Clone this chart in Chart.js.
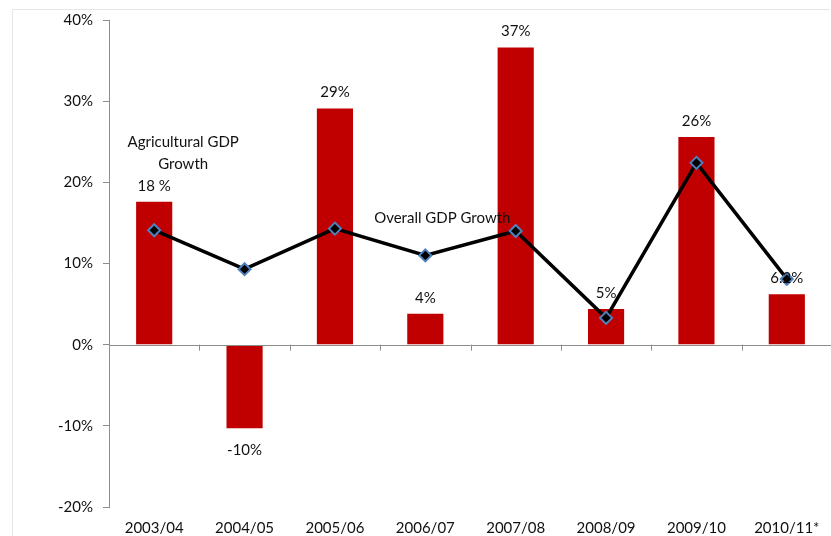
<!DOCTYPE html>
<html>
<head>
<meta charset="utf-8">
<script src="https://cdn.jsdelivr.net/npm/chart.js@4.4.1/dist/chart.umd.min.js"></script>
<style>
  html, body { margin: 0; padding: 0; background: #fff; overflow: hidden; }
  #wrap { position: relative; width: 840px; height: 536px; }
</style>
</head>
<body>
<div id="wrap"><canvas id="c" width="840" height="536"></canvas></div>
<script>
const categories = ['2003/04', '2004/05', '2005/06', '2006/07', '2007/08', '2008/09', '2009/10', '2010/11*'];
const agriculturalGrowth = [17.6, -10.3, 29.1, 3.8, 36.6, 4.4, 25.6, 6.2];
const agriculturalLabels = ['18 %', '-10%', '29%', '4%', '37%', '5%', '26%', '6.2%'];
const overallGrowth = [14.1, 9.3, 14.3, 11.0, 14.0, 3.3, 22.4, 8.1];
const yTicks = [-20, -10, 0, 10, 20, 30, 40];

const FONT = 'Lato, "Open Sans", sans-serif';

const decorPlugin = {
  id: 'decor',
  beforeDraw(chart) {
    const ctx = chart.ctx;
    ctx.save();
    ctx.strokeStyle = '#e6e6e6';
    ctx.lineWidth = 1;
    ctx.beginPath();
    ctx.moveTo(12.5, 540);
    ctx.lineTo(12.5, 9.5);
    ctx.lineTo(830, 9.5);
    ctx.stroke();
    ctx.restore();
  },
  afterDatasetsDraw(chart) {
    const ctx = chart.ctx;
    const x = chart.scales.x, y = chart.scales.y;
    const y0 = y.getPixelForValue(0);
    ctx.save();
    ctx.strokeStyle = '#8c8c8c';
    ctx.lineWidth = 1;
    ctx.beginPath();
    ctx.moveTo(chart.chartArea.left, Math.round(y0) + 0.5);
    ctx.lineTo(chart.chartArea.right, Math.round(y0) + 0.5);
    ctx.stroke();
    const half = (x.getPixelForValue(1) - x.getPixelForValue(0)) / 2;
    for (let i = 1; i < categories.length; i++) {
      const px = Math.round(x.getPixelForValue(i) - half) + 0.5;
      ctx.beginPath();
      ctx.moveTo(px, y0);
      ctx.lineTo(px, y0 + 6);
      ctx.stroke();
    }
    ctx.restore();
  },
  afterDraw(chart) {
    const ctx = chart.ctx;
    const meta = chart.getDatasetMeta(1);
    ctx.save();
    ctx.font = '15px ' + FONT;
    ctx.fillStyle = '#111';
    ctx.textAlign = 'center';
    ctx.textBaseline = 'middle';
    meta.data.forEach((bar, i) => {
      const v = agriculturalGrowth[i];
      const yy = v >= 0 ? bar.y - 16 : bar.y + 22;
      ctx.fillText(agriculturalLabels[i], bar.x, yy);
    });
    const x = chart.scales.x, y = chart.scales.y;
    ctx.fillText('Agricultural GDP', x.getPixelForValue(0) + 29, y.getPixelForValue(25.0));
    ctx.fillText('Growth', x.getPixelForValue(0) + 29, y.getPixelForValue(22.3));
    ctx.fillText('Overall GDP Growth', x.getPixelForValue(3) + 17, y.getPixelForValue(15.6));
    ctx.restore();
  }
};

new Chart(document.getElementById('c'), {
  data: {
    labels: categories,
    datasets: [
      {
        type: 'line',
        label: 'Overall GDP Growth',
        data: overallGrowth,
        borderColor: '#000',
        borderWidth: 3.5,
        pointStyle: 'rectRot',
        pointRadius: 6,
        pointBorderWidth: 2,
        pointBackgroundColor: '#000',
        pointBorderColor: '#4f81bd',
        tension: 0,
        order: 0
      },
      {
        type: 'bar',
        label: 'Agricultural GDP Growth',
        data: agriculturalGrowth,
        backgroundColor: '#c00000',
        borderWidth: 0,
        barPercentage: 0.4,
        categoryPercentage: 1.0,
        order: 1
      }
    ]
  },
  plugins: [decorPlugin],
  options: {
    responsive: false,
    animation: false,
    layout: { padding: { top: 20, right: 3, bottom: 0, left: 0 } },
    plugins: { legend: { display: false }, tooltip: { enabled: false } },
    scales: {
      x: {
        offset: true,
        border: { display: false },
        grid: { display: false, drawTicks: false },
        ticks: { color: '#111', font: { family: FONT, size: 15 }, padding: 12, maxRotation: 0, autoSkip: false },
        afterFit(s) { s.height = 29; }
      },
      y: {
        min: -20,
        max: 40,
        afterBuildTicks(s) { s.ticks = yTicks.map(v => ({ value: v })); },
        border: { display: true, color: '#8c8c8c' },
        grid: { drawOnChartArea: false, drawTicks: true, tickLength: 6, tickColor: '#8c8c8c' },
        ticks: { color: '#111', font: { family: FONT, size: 15 }, padding: 10, callback: v => v + '%' },
        afterFit(s) { s.width = 109; }
      }
    }
  }
});
</script>
</body>
</html>
